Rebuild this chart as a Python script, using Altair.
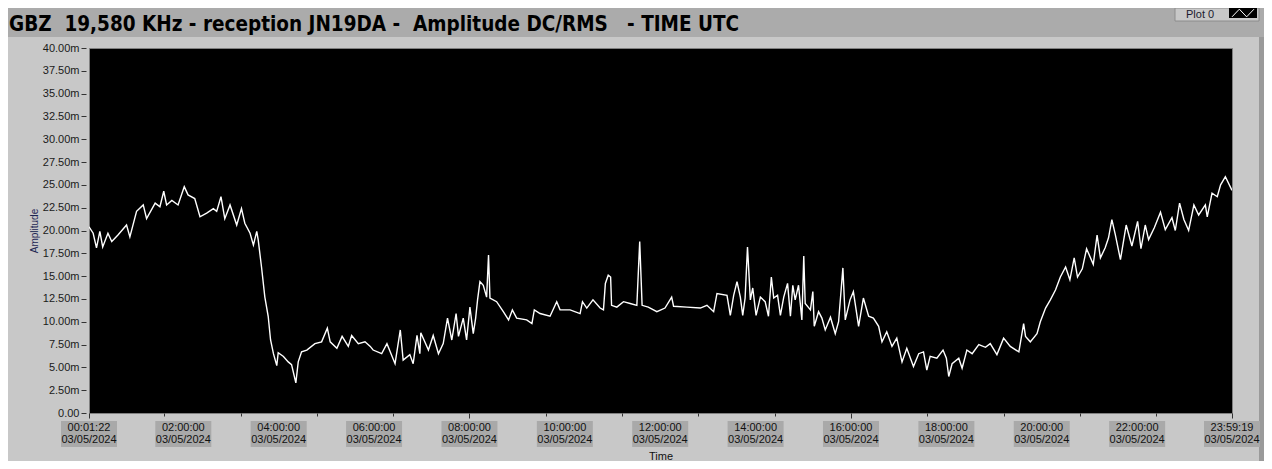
import altair as alt
import pandas as pd

# ---- data (hours UTC, amplitude in milli-units) ----
hours = [0.023, 0.11, 0.18, 0.25, 0.31, 0.42, 0.50, 0.63, 0.81, 0.88, 1.02, 1.16, 1.23, 1.41, 1.51,
         1.59, 1.65, 1.76, 1.89, 2.02, 2.10, 2.24, 2.35, 2.49, 2.63, 2.70, 2.79, 2.87, 2.98, 3.12,
         3.22, 3.29, 3.40, 3.47, 3.54, 3.57, 3.64, 3.71, 3.78, 3.83, 3.89, 3.96, 3.99, 4.10, 4.20,
         4.27, 4.36, 4.41, 4.48, 4.59, 4.76, 4.90, 5.02, 5.08, 5.22, 5.33, 5.46, 5.53, 5.67, 5.81,
         5.92, 5.98, 6.16, 6.27, 6.44, 6.55, 6.61, 6.75, 6.82, 6.90, 6.96, 6.98, 7.14, 7.24, 7.35,
         7.45, 7.54, 7.63, 7.72, 7.77, 7.87, 7.94, 8.01, 8.08, 8.13, 8.17, 8.22, 8.29, 8.36, 8.40,
         8.43, 8.57, 8.71, 8.82, 8.90, 8.99, 9.20, 9.31, 9.36, 9.48, 9.69, 9.83, 9.90, 10.11, 10.32,
         10.37, 10.46, 10.59, 10.74, 10.81, 10.85, 10.91, 10.96, 10.98, 11.09, 11.23, 11.37, 11.51,
         11.57, 11.62, 11.75, 11.93, 12.10, 12.24, 12.28, 12.56, 12.84, 12.98, 13.12, 13.19, 13.40,
         13.47, 13.54, 13.61, 13.68, 13.73, 13.78, 13.83, 13.89, 13.94, 14.01, 14.10, 14.20, 14.27,
         14.33, 14.38, 14.46, 14.52, 14.59, 14.67, 14.73, 14.78, 14.83, 14.90, 14.97, 15.01, 15.04,
         15.15, 15.20, 15.23, 15.32, 15.39, 15.46, 15.57, 15.67, 15.74, 15.83, 15.88, 15.98, 16.05,
         16.16, 16.26, 16.37, 16.47, 16.58, 16.65, 16.75, 16.86, 16.96, 17.07, 17.17, 17.31, 17.42,
         17.52, 17.59, 17.66, 17.80, 17.93, 18.00, 18.05, 18.12, 18.26, 18.33, 18.43, 18.54, 18.68,
         18.82, 18.92, 19.06, 19.20, 19.34, 19.52, 19.62, 19.66, 19.76, 19.90, 19.97, 20.08, 20.18,
         20.29, 20.39, 20.50, 20.59, 20.68, 20.75, 20.85, 20.94, 21.08, 21.16, 21.23, 21.33, 21.40,
         21.47, 21.54, 21.65, 21.77, 21.89, 22.01, 22.08, 22.17, 22.24, 22.36, 22.49, 22.59, 22.73,
         22.80, 22.89, 22.98, 23.08, 23.19, 23.29, 23.43, 23.47, 23.57, 23.68, 23.75, 23.85, 23.989]
amplitude = [20.4, 19.7, 18.1, 19.9, 18.2, 19.7, 18.8, 19.5, 20.6, 19.3, 22.1, 22.8, 21.3, 23.0, 22.6,
             24.3, 22.8, 23.3, 22.8, 24.8, 23.9, 23.5, 21.5, 21.9, 22.4, 22.1, 23.7, 21.3, 22.8, 20.6,
             22.4, 20.8, 19.7, 18.4, 19.9, 19.0, 16.0, 12.7, 10.6, 8.0, 6.5, 5.2, 6.6, 6.2, 5.6,
             5.3, 3.3, 5.6, 6.7, 6.9, 7.6, 7.8, 9.3, 7.8, 7.1, 8.4, 7.3, 8.5, 7.6, 7.8,
             7.3, 6.9, 6.5, 7.6, 5.4, 9.1, 5.8, 6.4, 5.4, 8.5, 6.5, 8.8, 6.9, 8.5, 6.5,
             7.6, 10.4, 8.0, 10.9, 8.4, 10.4, 8.0, 11.6, 8.7, 10.4, 12.4, 14.4, 14.0, 12.7, 17.3,
             12.6, 12.2, 11.1, 10.2, 11.3, 10.4, 10.2, 9.8, 11.3, 10.9, 10.6, 12.2, 11.3, 11.3, 10.9,
             12.2, 11.5, 12.4, 11.5, 11.3, 14.2, 15.1, 14.9, 11.8, 11.6, 12.2, 12.0, 11.8,
             18.8, 11.8, 11.6, 11.1, 11.5, 12.7, 11.7, 11.6, 11.5, 11.8, 11.1, 13.1, 12.9,
             10.7, 12.9, 14.4, 12.7, 10.7, 12.6, 18.2, 12.4, 13.7, 10.7, 12.7, 12.2, 10.6,
             14.9, 12.6, 12.9, 10.7, 12.7, 14.2, 10.6, 14.0, 12.4, 14.0, 10.2, 17.2, 12.0,
             11.3, 13.3, 9.5, 11.1, 10.4, 9.1, 10.5, 8.7, 10.0, 15.9, 10.2, 12.4, 13.3,
             9.5, 12.6, 10.6, 10.4, 9.5, 7.8, 8.9, 7.3, 8.2, 5.6, 7.1, 5.1, 6.5,
             6.7, 4.7, 6.2, 6.0, 6.9, 6.0, 4.0, 5.4, 6.0, 4.9, 6.9, 6.5, 7.5,
             7.2, 7.6, 6.4, 8.2, 7.3, 6.7, 9.8, 8.4, 7.8, 8.7, 10.0, 11.5, 12.4,
             13.5, 14.9, 16.0, 14.6, 17.0, 14.9, 15.8, 18.0, 16.3, 19.5, 17.0, 18.1, 19.2,
             21.2, 19.6, 16.8, 20.6, 18.3, 21.0, 18.0, 20.6, 19.0, 20.3, 22.0, 20.1, 21.4,
             20.0, 23.0, 21.2, 20.0, 22.8, 21.7, 22.8, 21.5, 24.1, 23.7, 25.0, 25.9, 24.4]

label_hours = [0.0228, 2, 4, 6, 8, 10, 12, 14, 16, 18, 20, 22, 23.989]
label_times = ["00:01:22", "02:00:00", "04:00:00", "06:00:00", "08:00:00", "10:00:00", "12:00:00",
               "14:00:00", "16:00:00", "18:00:00", "20:00:00", "22:00:00", "23:59:19"]
label_dates = ["03/05/2024"] * 13
y_ticks = [i * 2.5 for i in range(17)]
x_ticks = [0.0228] + [round(0.2 * i, 1) for i in range(1, 120)] + [23.989]

NB = "\u00a0"
title_text = ["GBZ" + NB + " 19,580 KHz - reception JN19DA -" + NB + " Amplitude DC/RMS" + NB + NB + " - TIME UTC"]
legend_text = ["Plot 0"]

W, H = 1143, 365
FONT = "Liberation Sans"

df = pd.DataFrame({"h": hours, "v": amplitude})
lab = pd.DataFrame({"h": label_hours, "t": label_times, "d": label_dates})
one = pd.DataFrame({"k": [0]})

xscale = alt.Scale(domain=[0.0228, 23.989], nice=False, zero=False)
yscale = alt.Scale(domain=[0, 40], nice=False, zero=True)

# background decorations (title band, legend, right strip)
band = alt.Chart(one).mark_rect(color="#ABABAB").encode(
    x=alt.value(-81), x2=alt.value(W + 32), y=alt.value(-40), y2=alt.value(-11))
strip = alt.Chart(one).mark_rect(color="#9A9A9A").encode(
    x=alt.value(W + 27), x2=alt.value(W + 32), y=alt.value(-11), y2=alt.value(H + 48))
leg_box = alt.Chart(one).mark_rect(color="#C8C8C8", stroke="#8C8C8C", strokeWidth=1).encode(
    x=alt.value(1086), x2=alt.value(1170), y=alt.value(-40), y2=alt.value(-27))
leg_sw = alt.Chart(one).mark_rect(color="black").encode(
    x=alt.value(1140), x2=alt.value(1168), y=alt.value(-40), y2=alt.value(-30))
leg_zig = alt.Chart(one).mark_point(
    shape="M-1,0.35L-0.33,-0.35L0.33,0.35L1,-0.35", size=484, filled=False,
    color="white", strokeWidth=1, opacity=1).encode(x=alt.value(1154), y=alt.value(-35))
leg_txt = alt.Chart(pd.DataFrame({"s": legend_text})).mark_text(
    font=FONT, fontSize=11, color="#1a1a2e", align="left", baseline="alphabetic").encode(
    x=alt.value(1097), y=alt.value(-30), text="s:N")

title = alt.Chart(pd.DataFrame({"s": title_text})).mark_text(
    font="DejaVu Sans Condensed", fontWeight="bold", fontSize=20.5, color="#000000",
    align="left", baseline="alphabetic").encode(
    x=alt.value(-80), y=alt.value(-17), text="s:N")

line = alt.Chart(df).mark_line(color="white", strokeWidth=1.4, clip=True).encode(
    x=alt.X("h:Q", scale=xscale,
            axis=alt.Axis(values=x_ticks, labels=False, domain=False, grid=False,
                          tickColor="#333333", tickWidth=1,
                          tickSize={"condition": {"test": "abs(datum.value/2 - round(datum.value/2)) < 0.001 || datum.value < 0.1 || datum.value > 23.9", "value": 5}, "value": 3},
                          title="Time", titleFont=FONT, titleFontSize=11, titleFontWeight="normal",
                          titleColor="#111111", titleY=37, titleBaseline="top")),
    y=alt.Y("v:Q", scale=yscale,
            axis=alt.Axis(values=y_ticks, domain=False, grid=False, offset=3,
                          tickSize=5, tickColor="#333333",
                          labelExpr="datum.value == 0 ? '0.00' : format(datum.value, '.2f') + 'm'",
                          labelFont=FONT, labelFontSize=11, labelColor="#1a1a1a", labelPadding=2,
                          title="Amplitude", titleFont=FONT, titleFontSize=10,
                          titleFontWeight="normal", titleColor="#1c2552", titlePadding=3)),
)

boxes = alt.Chart(lab).mark_point(
    shape="M-1,-0.464L1,-0.464L1,0.464L-1,0.464Z", size=3136, filled=True,
    color="#A9A9A9", opacity=1, strokeWidth=0).encode(
    x=alt.X("h:Q", scale=xscale), y=alt.value(H + 21))
t1 = alt.Chart(lab).mark_text(font=FONT, fontSize=11, color="#111111", baseline="middle").encode(
    x=alt.X("h:Q", scale=xscale), y=alt.value(H + 15), text="t:N")
t2 = alt.Chart(lab).mark_text(font=FONT, fontSize=11, color="#111111", baseline="middle").encode(
    x=alt.X("h:Q", scale=xscale), y=alt.value(H + 27), text="d:N")

chart = alt.layer(band, strip, leg_box, leg_sw, leg_zig, leg_txt, title, line, boxes, t1, t2).properties(
    width=W, height=H,
    padding={"left": 81, "top": 40, "right": 32, "bottom": 48},
    autosize=alt.AutoSizeParams(type="none"),
    background="#C8C8C8",
).configure_view(fill="black", stroke="#808080", strokeWidth=1)

chart.save("out.html", embed_options={"renderer": "svg", "actions": False})
